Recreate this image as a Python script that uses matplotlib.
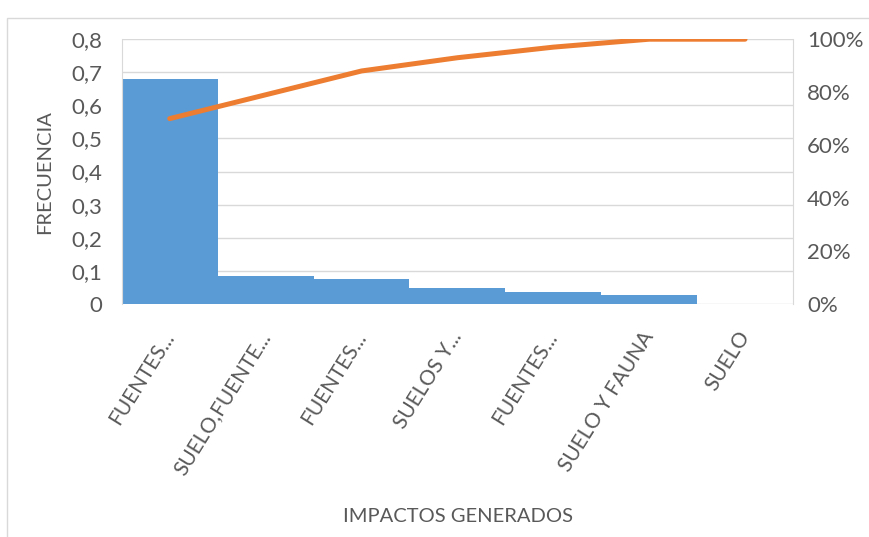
import numpy as np
import matplotlib.pyplot as plt
from matplotlib.patches import Rectangle
from matplotlib.ticker import FuncFormatter

# data
impactos = ['FUENTES...', 'SUELO,FUENTE...', 'FUENTES...', 'SUELOS Y...',
            'FUENTES...', 'SUELO Y FAUNA', 'SUELO']
frecuencia = [0.68, 0.085, 0.075, 0.049, 0.037, 0.027, 0.0]
acumulado = [70, 79, 88, 93, 97, 100, 100]

gris = '#595959'
plt.rcParams['font.family'] = ['Lato', 'DejaVu Sans']

fig = plt.figure(figsize=(8.7, 5.37), dpi=100)
ax = fig.add_axes([0.140, 0.434, 0.7715, 0.493])

# outer chart border
fig.patches.append(Rectangle((7/870, -0.01), 1, 1.01 - 18/537, transform=fig.transFigure,
                             fill=False, edgecolor='#d9d9d9', linewidth=1))

x = np.arange(len(impactos))
ax.bar(x, frecuencia, width=1.0, color='#5B9BD5', zorder=2)
ax.set_xlim(-0.5, len(impactos) - 0.5)
ax.set_ylim(0, 0.8)
ax.set_yticks(np.arange(0, 0.81, 0.1))
ax.yaxis.set_major_formatter(FuncFormatter(lambda v, p: '0' if v == 0 else f'{v:.1f}'.replace('.', ',')))
ax.grid(axis='y', color='#d9d9d9', linewidth=1, zorder=0)
ax.set_xticks(x)
ax.set_xticklabels(impactos, rotation=58, ha='right', va='center', rotation_mode='anchor')
ax.tick_params(axis='y', length=0, labelsize=16, labelcolor=gris, pad=14)
ax.tick_params(axis='x', length=0, labelsize=15, labelcolor=gris, pad=21)
for s in ['top', 'bottom']:
    ax.spines[s].set_visible(False)
for s in ['left', 'right']:
    ax.spines[s].set_color('#d9d9d9')
ax.set_ylabel('FRECUENCIA', fontsize=14.5, color=gris, labelpad=13)
fig.text(0.526, 1 - 517/537, 'IMPACTOS GENERADOS', fontsize=14.5, color=gris,
         ha='center', va='center')

ax2 = ax.twinx()
ax2.plot(x, acumulado, color='#ED7D31', linewidth=3.6, solid_capstyle='round', zorder=3)
ax2.set_ylim(0, 100)
ax2.set_yticks(np.arange(0, 101, 20))
ax2.yaxis.set_major_formatter(FuncFormatter(lambda v, p: f'{int(v)}%'))
ax2.tick_params(axis='y', length=0, labelsize=16, labelcolor=gris, pad=10)
for s in ax2.spines.values():
    s.set_visible(False)

fig.savefig('out.png', dpi=100)
